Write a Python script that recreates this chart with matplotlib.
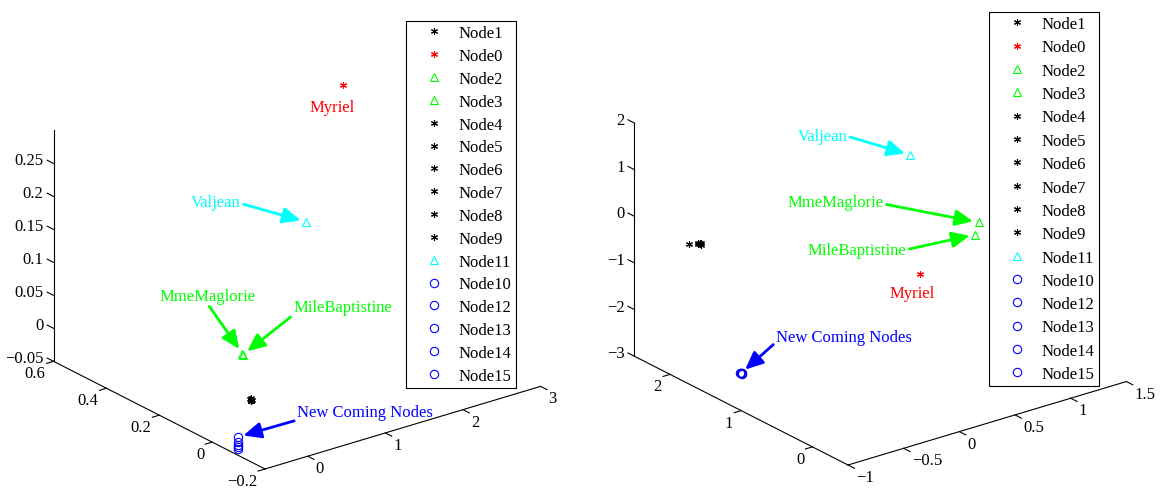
import matplotlib

matplotlib.use("Agg")
import matplotlib.pyplot as plt
import numpy as np
from matplotlib.lines import Line2D

plt.rcParams["font.family"] = ["Liberation Serif", "DejaVu Serif"]

# legend order = plotting order
NODES = ["Node1", "Node0", "Node2", "Node3", "Node4", "Node5", "Node6", "Node7",
         "Node8", "Node9", "Node11", "Node10", "Node12", "Node13", "Node14", "Node15"]
MARKERS = ["ast", "ast", "^", "^", "ast", "ast", "ast", "ast",
           "ast", "ast", "^", "o", "o", "o", "o", "o"]
COLORS = ["#000000", "#ff0000", "#00ff00", "#00ff00", "#000000", "#000000", "#000000", "#000000",
          "#000000", "#000000", "#00ffff", "#0000ff", "#0000ff", "#0000ff", "#0000ff", "#0000ff"]

# left embedding
LEFT_X = [0.120, 2.84, 0.180, 0.185, 0.125, 0.118, 0.122, 0.120,
          0.124, 0.119, 1.68, -0.45, -0.45, -0.45, -0.45, -0.45]
LEFT_Y = [0.050, 0.50, 0.100, 0.100, 0.050, 0.052, 0.048, 0.050,
          0.051, 0.049, 0.30, -0.068, -0.068, -0.068, -0.068, -0.068]
LEFT_Z = [-0.020, 0.27, 0.038, 0.036, -0.021, -0.019, -0.020, -0.022,
          -0.018, -0.021, 0.144, -0.032, -0.039, -0.044, -0.047, -0.050]

# right embedding
RIGHT_X = [-0.70, 0.03, 0.94, 0.91, -0.60, -0.61, -0.60, -0.59,
           -0.60, -0.61, 0.52, -0.81, -0.81, -0.80, -0.81, -0.81]
RIGHT_Y = [2.20, 0.10, 0.70, 0.70, 2.20, 2.21, 2.19, 2.20,
           2.20, 2.21, 1.00, 1.30, 1.31, 1.30, 1.29, 1.30]
RIGHT_Z = [-0.57, -0.11, -0.12, -0.36, -0.64, -0.63, -0.65, -0.64,
           -0.62, -0.64, 1.39, -2.57, -2.56, -2.57, -2.58, -2.57]

LEFT_LIMS = ((-0.55, 3.0), (-0.2, 0.6), (-0.05, 0.3))
LEFT_TICKS = ([0, 1, 2, 3], [-0.2, 0, 0.2, 0.4, 0.6],
              [-0.05, 0, 0.05, 0.1, 0.15, 0.2, 0.25])
RIGHT_LIMS = ((-1.0, 1.5), (-0.5, 2.5), (-3.0, 2.0))
RIGHT_TICKS = ([-1, -0.5, 0, 0.5, 1, 1.5], [0, 1, 2], [-3, -2, -1, 0, 1, 2])

# (text, node index, text offset px, arrow start relpos or None)
LEFT_NOTES = [
    ("Myriel", 1, (-11, -22), None),
    ("Valjean", 10, (-90, 20), (1.0, 0.4)),
    ("MmeMaglorie", 2, (-35, 58), (0.5, 0.0)),
    ("MileBaptistine", 3, (100, 48), (0.0, 0.0)),
    ("New Coming Nodes", 11, (127, 25), (0.0, 0.0)),
]
RIGHT_NOTES = [
    ("Myriel", 1, (-8, -19), None),
    ("Valjean", 10, (-88, 19), (1.0, 0.5)),
    ("MmeMaglorie", 2, (-143, 20), (1.0, 0.4)),
    ("MileBaptistine", 3, (-118, -15), (1.0, 0.5)),
    ("New Coming Nodes", 11, (103, 36), (0.0, 0.2)),
]

W_PX, H_PX = 1163, 489
AST = (6, 2, 0)


def _marker(m):
    return AST if m == "ast" else m


def _msize(m):
    return 5 if m == "ast" else 6


def _project(ax, x, y, z):
    v = ax.get_proj() @ np.array([x, y, z, 1.0])
    return v[0] / v[3], v[1] / v[3]


def _fmt(v):
    return f"{v:g}".replace("-", "\u2212")


def draw_panel(ax, xs, ys, zs, lims, ticks, notes):
    (x0, x1), (y0, y1), (z0, z1) = lims
    ax.set_xlim(x0, x1)
    ax.set_ylim(y0, y1)
    ax.set_zlim(z0, z1)
    ax.set_box_aspect((1, 1, 0.722))
    ax.view_init(elev=23, azim=-127.5)
    ax.set_axis_off()

    for i in range(len(NODES)):
        ax.plot([xs[i]], [ys[i]], [zs[i]], linestyle="none", marker=_marker(MARKERS[i]),
                markersize=_msize(MARKERS[i]), mfc="none", mec=COLORS[i], mew=0.8)

    k = dict(color="black", lw=0.8)
    ax.plot([x0, x1], [y0, y0], [z0, z0], **k)
    ax.plot([x0, x0], [y0, y1], [z0, z0], **k)
    ax.plot([x0, x0], [y1, y1], [z0, z1], **k)
    tx, ty = 0.025 * (x1 - x0), 0.03 * (y1 - y0)
    xt, yt, zt = ticks
    lab = dict(fontsize=12, textcoords="offset pixels", annotation_clip=False)
    for v in xt:
        ax.plot([v, v], [y0, y0 - ty], [z0, z0], **k)
        ax.annotate(_fmt(v), _project(ax, v, y0, z0), xytext=(8, -12),
                    ha="left", va="center", **lab)
    for v in yt:
        ax.plot([x0, x0 - tx], [v, v], [z0, z0], **k)
        ax.annotate(_fmt(v), _project(ax, x0, v, z0), xytext=(-8, -12),
                    ha="right", va="center", **lab)
    for v in zt:
        ax.plot([x0, x0], [y1, y1 + ty], [v, v], **k)
        ax.annotate(_fmt(v), _project(ax, x0, y1, v), xytext=(-10, 3),
                    ha="right", va="center", **lab)

    for text, i, off, rp in notes:
        c = COLORS[i]
        arrow = None
        if rp is not None:
            arrow = dict(arrowstyle="-|>,head_length=0.9,head_width=0.4", color=c,
                         lw=2.0, shrinkA=0, shrinkB=4, relpos=rp)
        ax.annotate(text, _project(ax, xs[i], ys[i], zs[i]), xytext=off,
                    textcoords="offset pixels", ha="center", va="center",
                    fontsize=12, color=c, arrowprops=arrow, annotation_clip=False)


def fit_box(fig, ax, lims, corner_px, width_px):
    fig.canvas.draw()
    (x0, x1), (y0, y1), (z0, z1) = lims

    def disp(x, y, z):
        return ax.transData.transform(_project(ax, x, y, z))

    c = disp(x0, y0, z0)
    lft = disp(x0, y1, z0)
    rgt = disp(x1, y0, z0)
    bb = ax.get_position()
    side = bb.width * W_PX
    fx = (c[0] - bb.x0 * W_PX) / side
    fy = (c[1] - bb.y0 * H_PX) / side
    new_side = side * width_px / (rgt[0] - lft[0])
    nx = corner_px[0] - fx * new_side
    ny = (H_PX - corner_px[1]) - fy * new_side
    ax.set_position([nx / W_PX, ny / H_PX, new_side / W_PX, new_side / H_PX])


def add_legend(fig, left_px, top_px, spacing):
    handles = [Line2D([], [], linestyle="none", marker=_marker(m), markersize=_msize(m),
                      mfc="none", mec=c, mew=0.8) for m, c in zip(MARKERS, COLORS)]
    leg = fig.legend(handles, NODES, loc="upper left",
                     bbox_to_anchor=(left_px / W_PX, 1 - top_px / H_PX),
                     fontsize=12, frameon=True, fancybox=False, framealpha=1,
                     edgecolor="black", borderaxespad=0, borderpad=0.25,
                     labelspacing=spacing, handlelength=2.8, handletextpad=0.1)
    leg.get_frame().set_linewidth(0.8)


fig = plt.figure(figsize=(W_PX / 100, H_PX / 100), dpi=100, facecolor="white")
ax_l = fig.add_axes([0.0, 0.0, 0.42, 1.0], projection="3d", proj_type="ortho")
ax_r = fig.add_axes([0.5, 0.0, 0.42, 1.0], projection="3d", proj_type="ortho")

draw_panel(ax_l, LEFT_X, LEFT_Y, LEFT_Z, LEFT_LIMS, LEFT_TICKS, LEFT_NOTES)
draw_panel(ax_r, RIGHT_X, RIGHT_Y, RIGHT_Z, RIGHT_LIMS, RIGHT_TICKS, RIGHT_NOTES)

fit_box(fig, ax_l, LEFT_LIMS, (265, 470), 487)
fit_box(fig, ax_r, RIGHT_LIMS, (848, 466), 492)

add_legend(fig, 406, 22, 0.41)
add_legend(fig, 989, 13, 0.44)

fig.savefig("out.png", dpi=100, facecolor="white")
